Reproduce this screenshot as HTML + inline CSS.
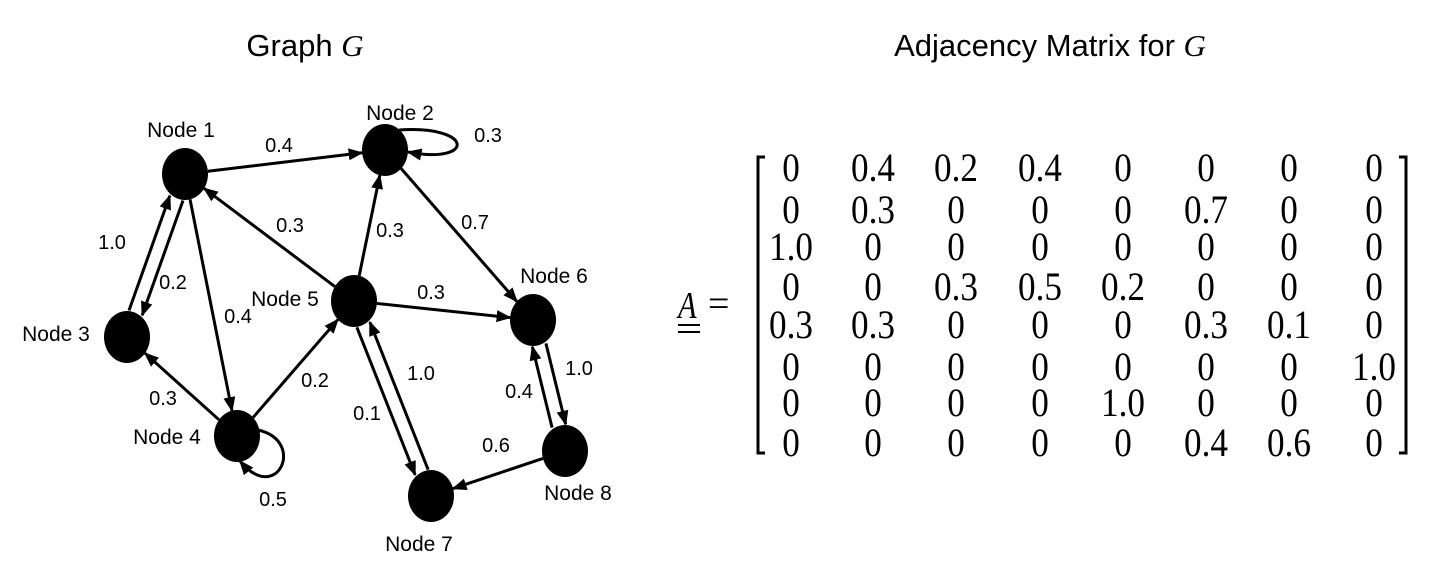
<!DOCTYPE html>
<html><head><meta charset="utf-8"><style>
html,body{margin:0;padding:0;background:#fff;}
svg{display:block;font-family:"Liberation Sans",sans-serif;}
</style></head><body>
<svg id="fig" width="1429" height="563" viewBox="0 0 1429 563">
<defs><marker id="ah" viewBox="0 0 10 10" refX="9" refY="5" markerWidth="5" markerHeight="5" orient="auto-start-reverse" markerUnits="strokeWidth"><path d="M0,1 L10,5 L0,9 Z" fill="#000"/></marker></defs>
<text x="305" y="56" font-size="31" text-anchor="middle">Graph <tspan font-family="Liberation Serif" font-style="italic">G</tspan></text>
<text x="1050" y="56" font-size="31" text-anchor="middle">Adjacency Matrix for <tspan font-family="Liberation Serif" font-style="italic">G</tspan></text>
<g id="graph"></g>
<g id="matrix"></g>
</svg>
<script>
const nodeNames=["Node 1","Node 2","Node 3","Node 4","Node 5","Node 6","Node 7","Node 8"];
const matrix=[
[0,0.4,0.2,0.4,0,0,0,0],
[0,0.3,0,0,0,0.7,0,0],
[1.0,0,0,0,0,0,0,0],
[0,0,0.3,0.5,0.2,0,0,0],
[0.3,0.3,0,0,0,0.3,0.1,0],
[0,0,0,0,0,0,0,1.0],
[0,0,0,0,1.0,0,0,0],
[0,0,0,0,0,0.4,0.6,0]];
// layout (not data)
const NP=[[185,174],[385,150],[127,337],[237,436],[354,301],[533,320],[431,496],[565,451]];
const LP=[[181,137],[400,120],[56,341],[167,444],[285,306],[554,283],[419,551],[578,500]];
const EL={"0-1":[279,152],"1-1":[488,142],"4-0":[290,232],"4-1":[390,237],"1-5":[475,229],"2-0":[112,249],"0-2":[173,289],"0-3":[238,323],"4-5":[431,299],"3-2":[163,405],"3-4":[315,387],"6-4":[421,380],"4-6":[367,420],"5-7":[579,375],"7-5":[519,398],"7-6":[496,452],"3-3":[273,506]};
const FLIP={"0-2":1,"2-0":1,"5-7":1,"7-5":1};
const RX=23,RY=26,NS="http://www.w3.org/2000/svg";
const g=document.getElementById('graph');
function mk(t,a,p){const e=document.createElementNS(NS,t);for(const k in a)e.setAttribute(k,a[k]);(p||g).appendChild(e);return e;}
function clip(cx,cy,dx,dy){const t=1/Math.sqrt((dx/RX)**2+(dy/RY)**2);return [cx+dx*t,cy+dy*t];}
for(let i=0;i<8;i++)for(let j=0;j<8;j++){
 const v=matrix[i][j]; if(!v) continue;
 const key=i+"-"+j; let el;
 if(i===j){
  const [x,y]=NP[i]; let d;
  if(i===1) d=`M${x+14},${y-20} C${x+90},${y-25} ${x+90},${y+15} ${x+23},${y+2}`;
  else d=`M${x+21},${y-6} C${x+70},${y+5} ${x+40},${y+70} ${x+3},${y+25}`;
  el=mk('path',{d:d,fill:'none',stroke:'#000','stroke-width':3,'marker-end':'url(#ah)'});
 } else {
  let [x1,y1]=NP[i],[x2,y2]=NP[j];
  const dx=x2-x1,dy=y2-y1,L=Math.hypot(dx,dy);
  let o=matrix[j][i]?7:0; if(FLIP[key]) o=-o;
  const px=-dy/L*o,py=dx/L*o;
  const a=clip(x1+px,y1+py,dx,dy),b=clip(x2+px,y2+py,-dx,-dy);
  el=mk('line',{x1:a[0],y1:a[1],x2:b[0],y2:b[1],stroke:'#000','stroke-width':3,'marker-end':'url(#ah)'});
 }
 
 
 const p=EL[key]||[(NP[i][0]+NP[j][0])/2,(NP[i][1]+NP[j][1])/2];
 const t=mk('text',{x:p[0],y:p[1],'font-size':20,'text-anchor':'middle'});
 t.textContent=v.toFixed(1);
 
 
}
for(let i=0;i<8;i++){
 const e=mk('ellipse',{cx:NP[i][0],cy:NP[i][1],rx:RX,ry:RY,fill:'#000'});
 
 
 const t=mk('text',{x:LP[i][0],y:LP[i][1],'font-size':21,'text-anchor':'middle'});
 t.textContent=nodeNames[i];
 
 
}
// matrix
const m=document.getElementById('matrix');
const CX=[791,873,956,1040,1123,1206,1289,1374],RY2=[168,210,247,287,325,367,403,443];
for(let r=0;r<8;r++)for(let c=0;c<8;c++){
 const v=matrix[r][c];
 const t=mk('text',{x:0,y:0,'font-size':40,'text-anchor':'middle','font-family':'Liberation Serif',transform:`translate(${CX[c]},${RY2[r]+13}) scale(0.88,1)`},m);
 t.textContent=v?v.toFixed(1):"0";
 
 
}
let b=mk('path',{d:'M765,157 L758,157 L758,453 L765,453',fill:'none',stroke:'#000','stroke-width':3},m);

b=mk('path',{d:'M1399,157 L1406,157 L1406,453 L1399,453',fill:'none',stroke:'#000','stroke-width':3},m);

let a=mk('text',{x:0,y:0,'font-size':38,'font-family':'Liberation Serif','font-style':'italic',transform:'translate(678,318) scale(0.8,1)'},m);
a.textContent='A';
mk('line',{x1:678,y1:325,x2:700,y2:325,stroke:'#000','stroke-width':2},m);
mk('line',{x1:678,y1:332,x2:700,y2:332,stroke:'#000','stroke-width':2},m);
a=mk('text',{x:708,y:316,'font-size':38,'font-family':'Liberation Serif'},m);
a.textContent='=';
</script>
</body></html>
